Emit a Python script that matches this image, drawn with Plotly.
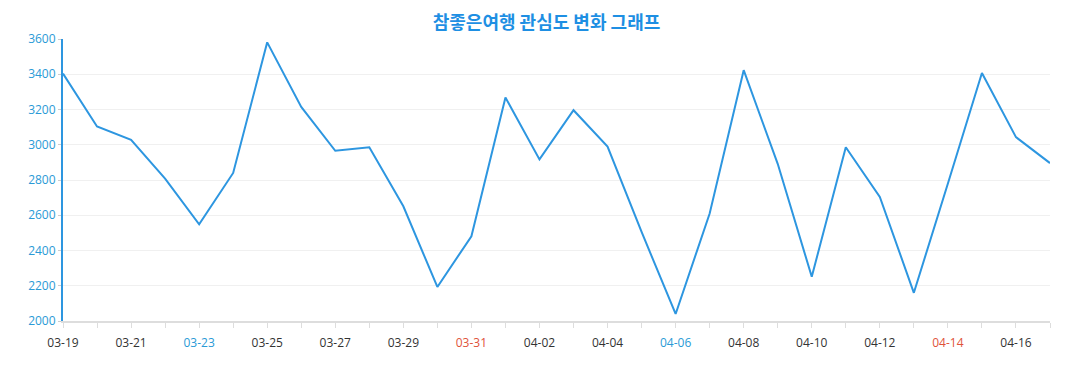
import plotly.graph_objects as go

dates = ["03-19","03-20","03-21","03-22","03-23","03-24","03-25","03-26","03-27","03-28",
         "03-29","03-30","03-31","04-01","04-02","04-03","04-04","04-05","04-06","04-07",
         "04-08","04-09","04-10","04-11","04-12","04-13","04-14","04-15","04-16","04-17"]
values = [3404, 3104, 3028, 2808, 2549, 2840, 3581, 3215, 2966, 2986,
          2651, 2193, 2481, 3268, 2917, 3196, 2990, 2505, 2040, 2610,
          3423, 2892, 2251, 2986, 2704, 2160, 2780, 3407, 3043, 2896]
blue_labels = ["03-23", "04-06"]
red_labels = ["03-31", "04-14"]
title = "참좋은여행 관심도 변화 그래프"

def label(i, d):
    if i % 2:
        return ""
    if d in blue_labels:
        return f'<span style="color:#2a9ad6">{d}</span>'
    if d in red_labels:
        return f'<span style="color:#e0533a">{d}</span>'
    return d

ticktext = [label(i, d) for i, d in enumerate(dates)]

fig = go.Figure()
fig.add_trace(go.Scatter(x=dates, y=values, mode="lines",
                         line=dict(color="#2d96e0", width=2), hoverinfo="x+y"))

fig.update_layout(
    width=1077, height=390,
    margin=dict(l=55, r=35, t=31, b=77),
    paper_bgcolor="white", plot_bgcolor="white",
    showlegend=False,
    font=dict(family="Open Sans, Noto Sans CJK KR, sans-serif", size=12, color="#333"),
    title=dict(text=f"<b>{title}</b>", x=0.5, xanchor="center", y=0.962, yanchor="middle",
               font=dict(family="Noto Sans CJK KR, sans-serif", size=18, color="#1e8fe3")),
    xaxis=dict(type="category", range=[0, len(dates) - 1],
               tickmode="array", tickvals=dates, ticktext=ticktext,
               showgrid=False, showline=True, linecolor="#dddddd", linewidth=2,
               ticks="outside", ticklen=5, tickcolor="#dddddd", tickwidth=1,
               ticklabelstandoff=5,
               tickfont=dict(size=12, color="#333"), zeroline=False),
    yaxis=dict(range=[2000, 3600], tickmode="linear", tick0=2000, dtick=200,
               showgrid=True, gridcolor="#f0f0f0", gridwidth=1,
               showline=True, linecolor="#2d96e0", linewidth=2,
               ticks="outside", ticklen=3, tickcolor="#cccccc",
               tickfont=dict(size=12, color="#2a9ad6"), zeroline=False),
)

fig.write_html("out.html")
